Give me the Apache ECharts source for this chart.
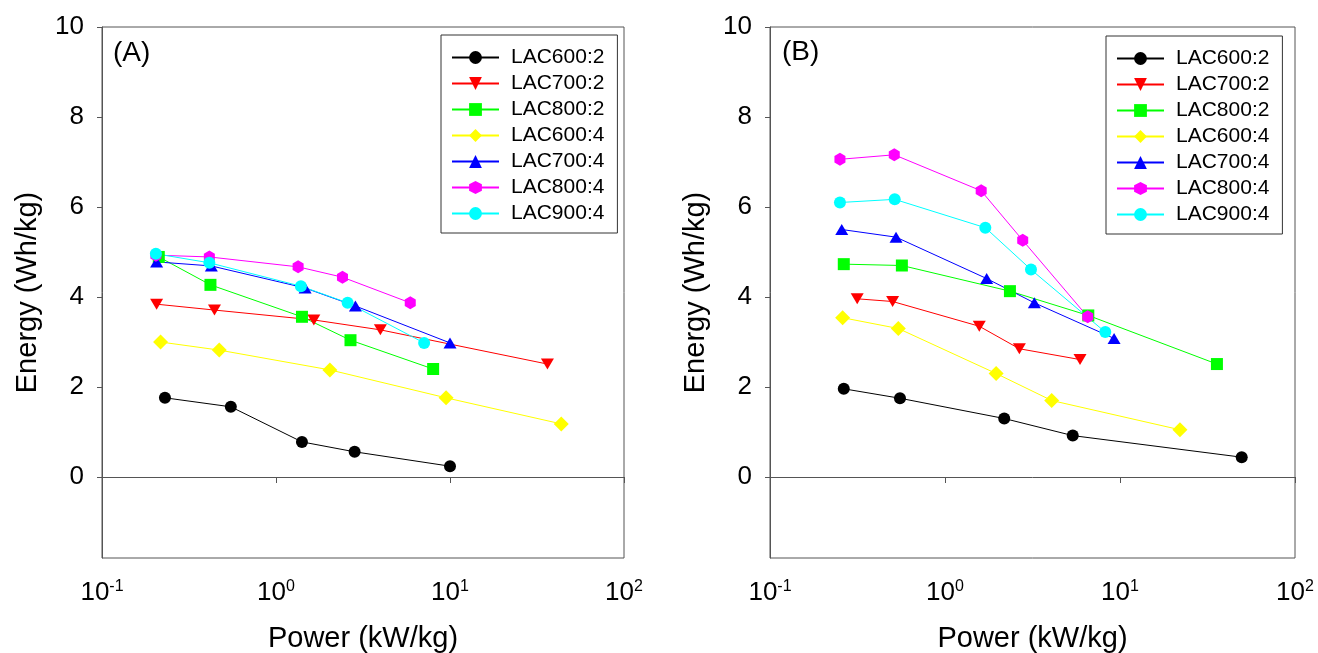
<!DOCTYPE html>
<html>
<head>
<meta charset="utf-8">
<script src="https://cdn.jsdelivr.net/npm/echarts@6/dist/echarts.min.js"></script>
<style>
html, body { margin: 0; padding: 0; background: #fff; }
#main { width: 1318px; height: 653px; }
</style>
</head>
<body>
<div id="main"></div>
<script>
'use strict';
var FONT = '"Liberation Sans", Arial, sans-serif';

var seriesNames = ['LAC600:2', 'LAC700:2', 'LAC800:2', 'LAC600:4', 'LAC700:4', 'LAC800:4', 'LAC900:4'];
var seriesColors = ['#000000', '#ff0000', '#00ff00', '#ffff00', '#0000ff', '#ff00ff', '#00ffff'];

var yTicks = [0, 2, 4, 6, 8, 10];
var xTicks = [0.1, 1, 10, 100];

// panel A, power (kW/kg) and energy (Wh/kg)
var powA600_2 = [0.23, 0.55, 1.41, 2.83, 10.0];
var enA600_2 = [1.76, 1.56, 0.78, 0.56, 0.24];
var powA700_2 = [0.206, 0.443, 1.65, 3.98, 36.3];
var enA700_2 = [3.84, 3.71, 3.49, 3.27, 2.51];
var powA800_2 = [0.212, 0.42, 1.41, 2.68, 8.0];
var enA800_2 = [4.89, 4.27, 3.56, 3.04, 2.40];
var powA600_4 = [0.217, 0.472, 2.04, 9.49, 43.6];
var enA600_4 = [3.00, 2.82, 2.38, 1.76, 1.18];
var powA700_4 = [0.206, 0.425, 1.47, 2.86, 10.0];
var enA700_4 = [4.78, 4.69, 4.20, 3.80, 2.98];
var powA800_4 = [0.204, 0.414, 1.34, 2.41, 5.91];
var enA800_4 = [4.93, 4.89, 4.67, 4.44, 3.87];
var powA900_4 = [0.204, 0.414, 1.39, 2.58, 7.1];
var enA900_4 = [4.96, 4.76, 4.24, 3.87, 2.98];

// panel B
var powB600_2 = [0.264, 0.553, 2.18, 5.37, 49.6];
var enB600_2 = [1.96, 1.75, 1.30, 0.92, 0.44];
var powB700_2 = [0.315, 0.502, 1.57, 2.66, 5.91];
var enB700_2 = [3.96, 3.90, 3.35, 2.85, 2.61];
var powB800_2 = [0.264, 0.567, 2.35, 6.59, 35.8];
var enB800_2 = [4.73, 4.70, 4.13, 3.59, 2.51];
var powB600_4 = [0.260, 0.541, 1.96, 4.07, 22.0];
var enB600_4 = [3.54, 3.30, 2.30, 1.70, 1.05];
var powB700_4 = [0.257, 0.525, 1.73, 3.24, 9.25];
var enB700_4 = [5.50, 5.33, 4.41, 3.87, 3.08];
var powB800_4 = [0.251, 0.513, 1.61, 2.78, 6.54];
var enB800_4 = [7.06, 7.16, 6.36, 5.26, 3.56];
var powB900_4 = [0.251, 0.516, 1.70, 3.10, 8.24];
var enB900_4 = [6.10, 6.17, 5.54, 4.61, 3.22];

var powerA = [powA600_2, powA700_2, powA800_2, powA600_4, powA700_4, powA800_4, powA900_4];
var energyA = [enA600_2, enA700_2, enA800_2, enA600_4, enA700_4, enA800_4, enA900_4];
var powerB = [powB600_2, powB700_2, powB800_2, powB600_4, powB700_4, powB800_4, powB900_4];
var energyB = [enB600_2, enB700_2, enB800_2, enB600_4, enB700_4, enB800_4, enB900_4];

var hexagon = 'path://M0,-1L0.866,-0.5L0.866,0.5L0,1L-0.866,0.5L-0.866,-0.5Z';
var downTri = 'path://M-1,-1L1,-1L0,1Z';
var symbols = ['circle', downTri, 'rect', 'diamond', 'triangle', hexagon, 'circle'];
var symbolSizes = [12, [13, 11], 12, 15, [13, 11], [11, 13], 12];

var axisColor = '#555';

function xAxisFor(gridIndex) {
    return {
        type: 'log', logBase: 10, gridIndex: gridIndex,
        min: xTicks[0], max: xTicks[xTicks.length - 1],
        name: 'Power (kW/kg)', nameLocation: 'middle', nameGap: 66,
        nameTextStyle: { fontFamily: FONT, fontSize: 29, color: '#000' },
        axisLine: { show: true, lineStyle: { color: axisColor, width: 1 } },
        axisTick: { show: true, inside: false, length: 6, lineStyle: { color: axisColor } },
        minorTick: { show: false },
        splitLine: { show: false },
        axisLabel: {
            margin: 21, showMinLabel: true, showMaxLabel: true,
            formatter: function(v) {
                var e = Math.round(Math.log10(v));
                return '{b|10}{s|' + e + '}';
            },
            rich: {
                b: { fontFamily: FONT, fontSize: 26, lineHeight: 28, color: '#000' },
                s: { fontFamily: FONT, fontSize: 16, lineHeight: 16, color: '#000', verticalAlign: 'top' }
            }
        }
    };
}

function yAxisFor(gridIndex) {
    return {
        type: 'value', gridIndex: gridIndex, min: -1.8, max: 10,
        name: 'Energy (Wh/kg)', nameLocation: 'middle', nameGap: 60,
        nameTextStyle: { fontFamily: FONT, fontSize: 29, color: '#000' },
        axisLine: { show: true, lineStyle: { color: axisColor, width: 1 } },
        axisTick: { show: true, inside: false, length: 5, customValues: yTicks, lineStyle: { color: axisColor } },
        splitLine: { show: false },
        axisLabel: { margin: 18, customValues: yTicks, fontFamily: FONT, fontSize: 26, color: '#000' }
    };
}

function legendFor(left, top) {
    return {
        orient: 'vertical', left: left, top: top,
        data: seriesNames, selectedMode: false,
        itemWidth: 47, itemHeight: 16, itemGap: 5,
        padding: [12, 13, 9, 10],
        borderColor: '#333', borderWidth: 1, backgroundColor: '#fff',
        textStyle: { fontFamily: FONT, fontSize: 21, lineHeight: 20, color: '#000', padding: [0, 0, 0, 7] }
    };
}

var series = [];
function addPanel(powers, energies, idx) {
    for (var i = 0; i < seriesNames.length; i++) {
        var pts = [];
        for (var j = 0; j < powers[i].length; j++) pts.push([powers[i][j], energies[i][j]]);
        series.push({
            type: 'line', name: seriesNames[i], xAxisIndex: idx, yAxisIndex: idx,
            data: pts, symbol: symbols[i], symbolSize: symbolSizes[i],
            showAllSymbol: true, animation: false,
            itemStyle: { color: seriesColors[i] },
            lineStyle: { color: seriesColors[i], width: 1 }
        });
    }
}
addPanel(powerA, energyA, 0);
addPanel(powerB, energyB, 1);

var chart = echarts.init(document.getElementById('main'), null, { renderer: 'canvas' });
chart.setOption({
    backgroundColor: '#fff',
    animation: false,
    title: [
        { text: '(A)', left: 113, top: 39, padding: 0, textStyle: { fontFamily: FONT, fontSize: 28, fontWeight: 'normal', color: '#000' } },
        { text: '(B)', left: 782, top: 38, padding: 0, textStyle: { fontFamily: FONT, fontSize: 28, fontWeight: 'normal', color: '#000' } }
    ],
    grid: [
        { left: 102, right: 694, top: 27, bottom: 95, show: true, borderColor: axisColor, borderWidth: 1, outerBoundsMode: 'none', containLabel: false },
        { left: 770, right: 23, top: 27, bottom: 95, show: true, borderColor: axisColor, borderWidth: 1, outerBoundsMode: 'none', containLabel: false }
    ],
    legend: [legendFor(441, 35), legendFor(1106, 36)],
    xAxis: [xAxisFor(0), xAxisFor(1)],
    yAxis: [yAxisFor(0), yAxisFor(1)],
    series: series
});
</script>
</body>
</html>
